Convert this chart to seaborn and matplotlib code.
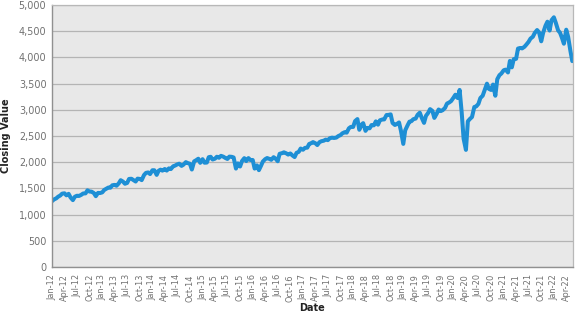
import matplotlib
matplotlib.use("Agg")
import matplotlib.pyplot as plt
import matplotlib.dates as mdates
import matplotlib.ticker as mticker
import seaborn as sns
import pandas as pd
import numpy as np

# Semi-monthly (1st and 15th) closing values, Jan 2012 - mid May 2022
values_2012 = [1258, 1290, 1312, 1344, 1366, 1402, 1408, 1370, 1398, 1330, 1278, 1342,
               1362, 1357, 1379, 1405, 1407, 1465, 1441, 1440, 1412, 1353, 1416, 1413]
values_2013 = [1426, 1472, 1498, 1519, 1515, 1561, 1569, 1553, 1598, 1658, 1631, 1590,
               1606, 1682, 1686, 1661, 1633, 1688, 1682, 1660, 1757, 1798, 1806, 1775]
values_2014 = [1848, 1848, 1760, 1838, 1859, 1841, 1872, 1842, 1884, 1870, 1924, 1937,
               1960, 1973, 1931, 1955, 2003, 1985, 1972, 1862, 2018, 2039, 2068, 1990]
values_2015 = [2059, 1992, 1995, 2097, 2105, 2053, 2068, 2106, 2086, 2123, 2107, 2084,
               2063, 2108, 2104, 2092, 1880, 1979, 1920, 2023, 2079, 2023, 2080, 2043]
values_2016 = [2044, 1880, 1940, 1850, 1932, 2015, 2060, 2081, 2065, 2047, 2097, 2071,
               2020, 2162, 2174, 2190, 2171, 2147, 2168, 2133, 2100, 2180, 2199, 2262]
values_2017 = [2239, 2275, 2279, 2349, 2364, 2385, 2363, 2329, 2384, 2402, 2412, 2432,
               2423, 2459, 2470, 2464, 2472, 2500, 2519, 2553, 2575, 2565, 2648, 2675]
values_2018 = [2674, 2786, 2824, 2620, 2714, 2747, 2600, 2656, 2648, 2711, 2705, 2780,
               2718, 2801, 2816, 2818, 2902, 2904, 2914, 2750, 2712, 2730, 2760, 2600]
values_2019 = [2351, 2610, 2704, 2775, 2784, 2822, 2834, 2905, 2946, 2850, 2752, 2886,
               2942, 3014, 2980, 2847, 2926, 3007, 2977, 2995, 3038, 3120, 3141, 3168]
values_2020 = [3231, 3289, 3226, 3380, 2954, 2450, 2237, 2783, 2830, 2863, 3055, 3066,
               3115, 3226, 3271, 3372, 3500, 3401, 3380, 3483, 3270, 3585, 3662, 3694]
values_2021 = [3756, 3768, 3714, 3934, 3811, 3968, 3973, 4170, 4181, 4173, 4204, 4246,
               4298, 4360, 4395, 4468, 4523, 4480, 4308, 4471, 4605, 4682, 4513, 4710]
values_2022 = [4766, 4662, 4516, 4471, 4374, 4262, 4530, 4392, 4132, 3930]

closing = (values_2012 + values_2013 + values_2014 + values_2015 + values_2016 +
           values_2017 + values_2018 + values_2019 + values_2020 + values_2021 + values_2022)
dates = pd.date_range("2012-01-01", periods=len(closing), freq="SMS")

y_ticks = list(range(0, 5001, 500))
x_tick_dates = pd.date_range("2012-01-01", "2022-04-01", freq="QS")

df = pd.DataFrame({"Date": dates, "Closing Value": closing})

sns.set_theme(style="white")
plt.rcParams["font.family"] = ["DejaVu Sans"]

fig = plt.figure(figsize=(5.77, 3.15), dpi=100)
ax = fig.add_axes([0.0901, 0.152, 0.993 - 0.0901, 0.984 - 0.152])
ax.set_facecolor("#e8e8e8")

sns.lineplot(data=df, x="Date", y="Closing Value", ax=ax, color="#1e8fd5", linewidth=2.9)

ax.set_ylim(0, 5000)
ax.set_yticks(y_ticks)
ax.yaxis.set_major_formatter(mticker.FuncFormatter(lambda v, p: f"{int(v):,}"))
ax.set_xlim(pd.Timestamp("2012-01-01"), pd.Timestamp("2022-05-20"))
ax.set_xticks(x_tick_dates)
ax.xaxis.set_major_formatter(mdates.DateFormatter("%b-%y"))

ax.grid(axis="y", color="#b4b4b4", linewidth=0.9)
ax.grid(axis="x", visible=False)
ax.set_axisbelow(True)

for side in ["top", "right"]:
    ax.spines[side].set_color("#b8b8b8")
    ax.spines[side].set_linewidth(0.9)
for side in ["left", "bottom"]:
    ax.spines[side].set_color("#909090")
    ax.spines[side].set_linewidth(1.0)

ax.tick_params(axis="y", labelsize=6.9, labelcolor="#707070", length=2, color="#909090", pad=2)
ax.tick_params(axis="x", labelsize=5.9, labelcolor="#707070", length=2, color="#909090",
               labelrotation=90, pad=3)

ax.set_xlabel("Date", fontsize=7, fontweight="bold", color="#222222", labelpad=1)
ax.set_ylabel("Closing Value", fontsize=7, fontweight="bold", color="#222222")
ax.yaxis.set_label_coords(-0.078, 0.5)

fig.savefig("out.png", dpi=100)
